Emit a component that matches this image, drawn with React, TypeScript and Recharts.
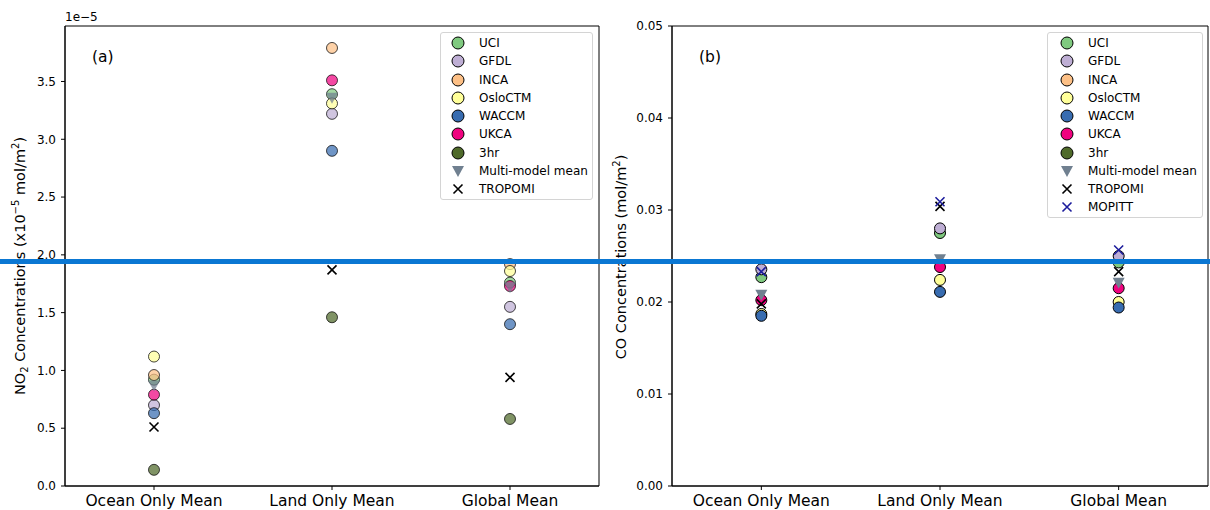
import { Label, ReferenceArea, Scatter, ScatterChart, XAxis, YAxis } from 'recharts'

const categories = ['Ocean Only Mean', 'Land Only Mean', 'Global Mean']

// NO2 column, units of 1e-5 mol/m2 (ocean, land, global)
const no2UCI = [0.92, 3.39, 1.76]
const no2GFDL = [0.70, 3.22, 1.55]
const no2INCA = [0.96, 3.79, 1.92]
const no2Oslo = [1.12, 3.31, 1.86]
const no2WACCM = [0.63, 2.90, 1.40]
const no2UKCA = [0.79, 3.51, 1.73]
const no23hr = [0.14, 1.46, 0.58]
const no2Mean = [0.87, 3.36, 1.72]
const no2Tropomi = [0.51, 1.87, 0.94]

// CO column, mol/m2
const coUCI = [0.0227, 0.0275, 0.0243]
const coGFDL = [0.02355, 0.0280, 0.0250]
const coOslo = [0.0187, 0.0224, 0.0200]
const coWACCM = [0.0185, 0.0211, 0.0194]
const coUKCA = [0.0202, 0.0238, 0.0215]
const coMean = [0.0208, 0.02465, 0.0221]
const coTropomi = [0.0198, 0.0304, 0.0233]
const coMopitt = [0.0233, 0.0309, 0.02565]

const no2Ticks = [0, 0.5, 1, 1.5, 2, 2.5, 3, 3.5]
const coTicks = [0, 0.01, 0.02, 0.03, 0.04, 0.05]

type Kind = 'circle' | 'tri' | 'x'
interface Series { name: string; color: string; kind: Kind; no2?: number[]; co?: number[] }

const series: Series[] = [
  { name: 'UCI', color: '#7fc97f', kind: 'circle', no2: no2UCI, co: coUCI },
  { name: 'GFDL', color: '#beaed4', kind: 'circle', no2: no2GFDL, co: coGFDL },
  { name: 'INCA', color: '#fdc086', kind: 'circle', no2: no2INCA },
  { name: 'OsloCTM', color: '#ffff99', kind: 'circle', no2: no2Oslo, co: coOslo },
  { name: 'WACCM', color: '#386cb0', kind: 'circle', no2: no2WACCM, co: coWACCM },
  { name: 'UKCA', color: '#f0027f', kind: 'circle', no2: no2UKCA, co: coUKCA },
  { name: '3hr', color: '#4f6a2a', kind: 'circle', no2: no23hr },
  { name: 'Multi-model mean', color: '#708090', kind: 'tri', no2: no2Mean, co: coMean },
  { name: 'TROPOMI', color: '#000000', kind: 'x', no2: no2Tropomi, co: coTropomi },
  { name: 'MOPITT', color: '#1c1c9c', kind: 'x', co: coMopitt },
]

const font = 'DejaVu Sans, sans-serif'

const toPoints = (vals: number[]) => vals.map((y, x) => ({ x, y }))

function Marker({ cx, cy, kind, color, alpha, r = 5.5 }: any) {
  if (cx == null || cy == null) return null
  if (kind === 'circle')
    return <circle cx={cx} cy={cy} r={r} fill={color} fillOpacity={alpha} stroke="#000" strokeOpacity={alpha} strokeWidth={1} />
  if (kind === 'tri')
    return <path d={`M${cx - 6},${cy - 5} L${cx + 6},${cy - 5} L${cx},${cy + 6} Z`} fill={color} fillOpacity={alpha} />
  const s = 4.5
  return <path d={`M${cx - s},${cy - s}L${cx + s},${cy + s}M${cx - s},${cy + s}L${cx + s},${cy - s}`} stroke={color} strokeWidth={1.6} fill="none" />
}

function LegendBox({ items, left, width, height, mx, tx }: { items: Series[]; left: number; width: number; height: number; mx: number; tx: number }) {
  return (
    <div style={{
      position: 'absolute', left, top: 32, width, height, border: '1px solid #d4d4d4', borderRadius: 3,
      background: 'rgba(255,255,255,0.85)', boxSizing: 'border-box', fontFamily: font, fontSize: 12,
    }}>
      {items.map((s, i) => (
        <div key={s.name} style={{ position: 'absolute', left: 0, top: 10 + i * 18.25 - 9, height: 18, width: '100%' }}>
          <svg width={24} height={18} style={{ position: 'absolute', left: mx - 12, top: 0 }}>
            <Marker cx={12} cy={9} kind={s.kind} color={s.color} alpha={1} r={6} />
          </svg>
          <span style={{ position: 'absolute', left: tx, top: 2, lineHeight: '14px', whiteSpace: 'nowrap' }}>{s.name}</span>
        </div>
      ))}
    </div>
  )
}

function Panel({ which }: { which: 'no2' | 'co' }) {
  const isNo2 = which === 'no2'
  const yMax = isNo2 ? 3.98 : 0.05
  const width = isNo2 ? 600 : 610
  const list = series.filter(s => (isNo2 ? s.no2 : s.co))
  const alpha = isNo2 ? 0.72 : 1
  return (
    <ScatterChart width={width} height={510} margin={{ top: 26, right: isNo2 ? 1 : 2, bottom: 0, left: isNo2 ? 15 : 22 }}>
      <XAxis
        type="number" dataKey="x" domain={[-0.5, 2.5]} ticks={[0, 1, 2]} allowDataOverflow
        tickFormatter={(v: number) => categories[v] ?? ''} height={24} tickSize={4} tickMargin={5}
        stroke="#000" tick={{ fontSize: 15.5, fill: '#000', fontFamily: font }}
      />
      <YAxis
        type="number" dataKey="y" domain={[0, yMax]} ticks={isNo2 ? no2Ticks : coTicks} allowDataOverflow
        tickFormatter={(v: number) => v.toFixed(isNo2 ? 1 : 2)} width={50} tickSize={4} tickMargin={5}
        stroke="#000" tick={{ fontSize: 12, fill: '#000', fontFamily: font }}
      >
        <Label
          content={() =>
            isNo2 ? (
              <text transform="translate(25, 266) rotate(-90)" textAnchor="middle" fontSize={14.5} fontFamily={font} fill="#000">
                NO<tspan dy={3} fontSize={10}>2</tspan><tspan dy={-3}> Concentrations (x10</tspan>
                <tspan dy={-6} fontSize={10}>−5</tspan><tspan dy={6}> mol/m</tspan>
                <tspan dy={-6} fontSize={10}>2</tspan><tspan dy={6}>)</tspan>
              </text>
            ) : (
              <text transform="translate(26, 257) rotate(-90)" textAnchor="middle" fontSize={14.5} fontFamily={font} fill="#000">
                CO Concentrations (mol/m<tspan dy={-6} fontSize={10}>2</tspan><tspan dy={6}>)</tspan>
              </text>
            )
          }
        />
      </YAxis>
      <ReferenceArea x1={-0.5} x2={2.5} y1={0} y2={yMax} fill="none" fillOpacity={0} stroke="#000" strokeWidth={1} ifOverflow="visible" />
      {list.map(s => (
        <Scatter
          key={s.name} name={s.name} data={toPoints((isNo2 ? s.no2 : s.co) as number[])}
          isAnimationActive={false}
          shape={(p: any) => <Marker cx={p.cx} cy={p.cy} kind={s.kind} color={s.color} alpha={alpha} />}
        />
      ))}
    </ScatterChart>
  )
}

export default function App() {
  const no2Items = series.filter(s => s.no2)
  return (
    <div style={{ position: 'absolute', left: 0, top: 0, width: 1210, height: 510, background: '#fff', fontFamily: font }}>
      <div style={{ position: 'absolute', left: 0, top: 0 }}><Panel which="no2" /></div>
      <div style={{ position: 'absolute', left: 600, top: 0 }}><Panel which="co" /></div>
      <div style={{ position: 'absolute', left: 65, top: 10, fontSize: 12, lineHeight: '14px' }}>1e−5</div>
      <div style={{ position: 'absolute', left: 92, top: 48, fontSize: 15.5, lineHeight: '18px' }}>(a)</div>
      <div style={{ position: 'absolute', left: 699, top: 48, fontSize: 15.5, lineHeight: '18px' }}>(b)</div>
      <LegendBox items={no2Items} left={440} width={153} height={168} mx={17} tx={38} />
      <LegendBox items={series} left={1047} width={156} height={186} mx={19} tx={40} />
      <div style={{ position: 'absolute', left: 0, top: 259, width: 1210, height: 5, background: '#0a77d3' }} />
    </div>
  )
}
